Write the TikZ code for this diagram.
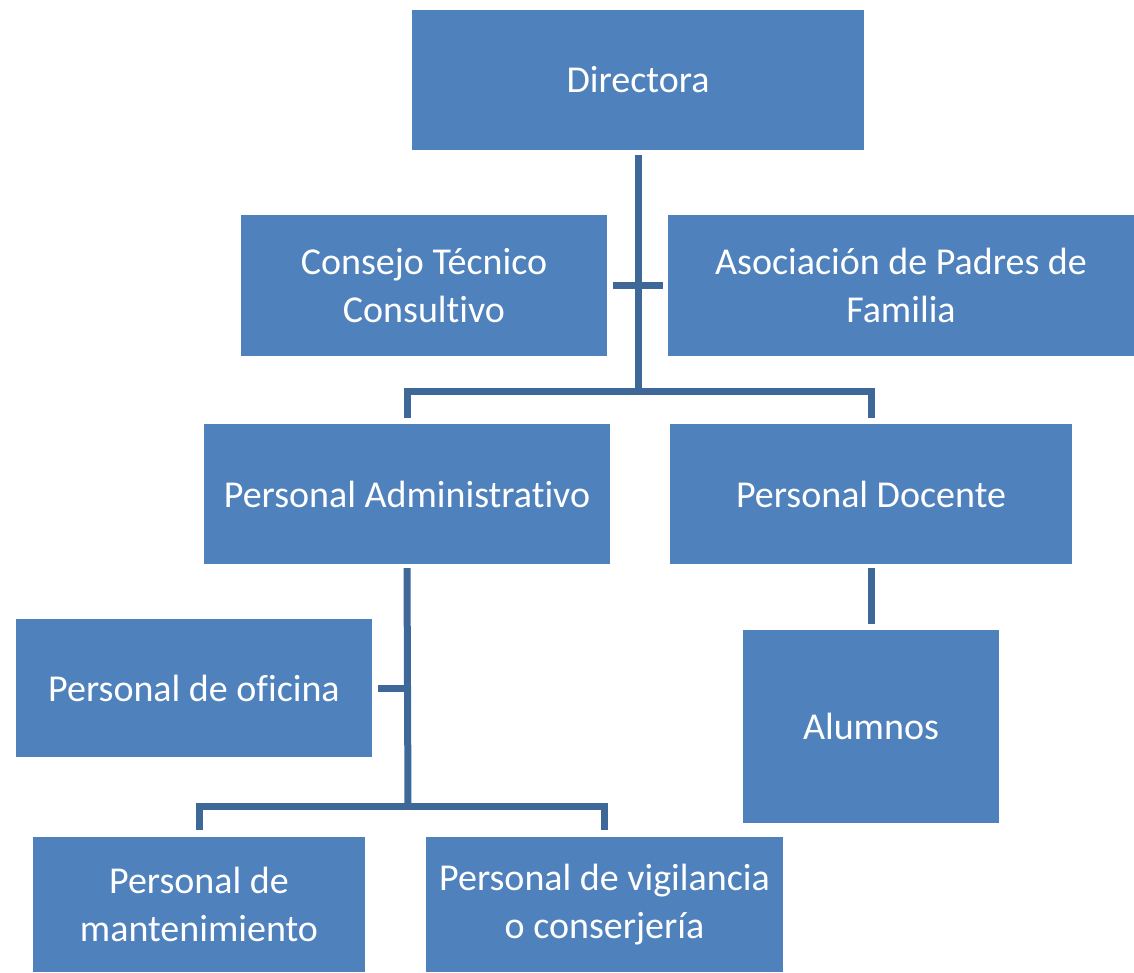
\documentclass[tikz,border=0pt]{standalone}
\usepackage{fontspec}
\setmainfont{Carlito}[Ligatures=NoCommon]
\usepackage{tikz}
\definecolor{boxblue}{RGB}{79,129,189}
\definecolor{lineblue}{RGB}{62,104,151}

\begin{document}
\begin{tikzpicture}[x=1pt,y=-1pt]
\tikzstyle{every node}+=[inner sep=0pt]
\tikzstyle{box}=[fill=boxblue, text=white, align=center, font=\fontsize{38}{48}\selectfont]
\tikzstyle{link}=[draw=lineblue, line width=7pt]
\useasboundingbox (0,0) rectangle (1134,972);
\node [box, minimum width=452pt, minimum height=140pt] (dir) at (638,80) {Directora};
\node [box, minimum width=366pt, minimum height=141pt] (ctc) at (424,285.5) {Consejo Técnico\\Consultivo};
\node [box, minimum width=466pt, minimum height=141pt] (apf) at (901,285.5) {Asociación de Padres de\\Familia};
\node [box, minimum width=406pt, minimum height=140pt] (padm) at (407,494) {Personal Administrativo};
\node [box, minimum width=402pt, minimum height=140pt] (pdoc) at (871,494) {Personal Docente};
\node [box, minimum width=356pt, minimum height=138pt] (pofi) at (194,688) {Personal de oficina};
\node [box, minimum width=256pt, minimum height=193pt] (alum) at (871,726.5) {Alumnos};
\node [box, minimum width=332pt, minimum height=135pt] (pman) at (199,904.5) {Personal de\\mantenimiento};
\node [box, minimum width=357pt, minimum height=135pt] (pvig) at (604.5,904.5) {Personal de vigilancia\\o conserjería};
\coordinate (bus) at (638,391);
\coordinate (sub) at (408,806);
\draw [link] ([yshift=-5pt]dir.south) -- (bus);
\draw [link] ([xshift=6pt]ctc.east) -- ([xshift=-5pt]apf.west);
\draw [link] ([yshift=6pt]padm.north) |- (bus) -| ([yshift=6pt]pdoc.north);
\draw [link] ([yshift=-4pt]padm.south) -- (sub);
\draw [link] ([xshift=6pt]pofi.east) -- (pofi.east -| sub);
\draw [link] ([yshift=7pt]pman.north) |- (sub) -| ([yshift=7pt]pvig.north);
\draw [link] ([yshift=-4pt]pdoc.south) -- ([yshift=6pt]alum.north);
\end{tikzpicture}
\end{document}
